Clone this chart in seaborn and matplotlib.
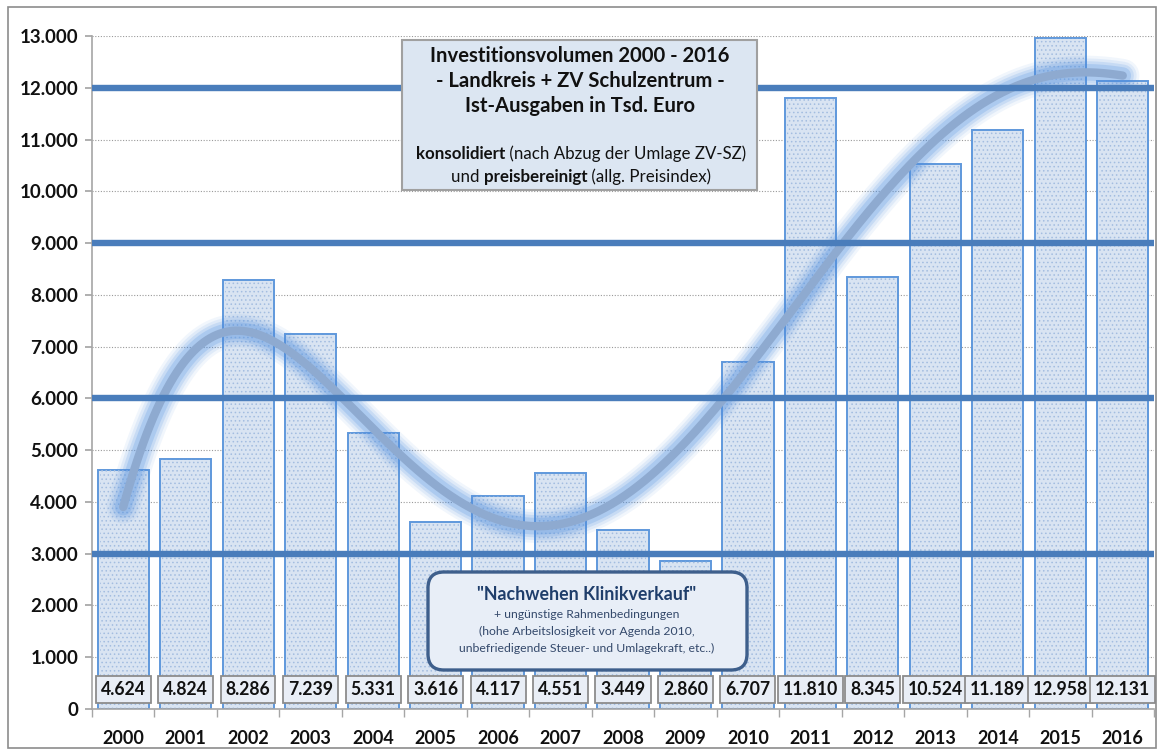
import numpy as np
import pandas as pd
import matplotlib
matplotlib.use("Agg")
import matplotlib.pyplot as plt
import seaborn as sns
from matplotlib.patches import Rectangle, FancyBboxPatch
from matplotlib.transforms import IdentityTransform
from matplotlib.ticker import FuncFormatter, MultipleLocator

# data (Tsd. Euro)
years = [str(y) for y in range(2000, 2017)]
invest = [4624, 4824, 8286, 7239, 5331, 3616, 4117, 4551, 3449, 2860,
          6707, 11810, 8345, 10524, 11189, 12958, 12131]
ref_lines = [3000, 6000, 9000, 12000]

title_lines = ["Investitionsvolumen 2000 - 2016",
               "- Landkreis + ZV Schulzentrum -",
               "Ist-Ausgaben in Tsd. Euro"]
note_title = '"Nachwehen Klinikverkauf"'
note_lines = ["+ ungünstige Rahmenbedingungen",
              "(hohe Arbeitslosigkeit vor Agenda 2010,",
              "unbefriedigende Steuer- und Umlagekraft, etc..)"]

df = pd.DataFrame({"Jahr": years, "Invest": invest})

sns.set_theme(style="white")
plt.rcParams["font.family"] = ["Lato", "DejaVu Sans"]
plt.rcParams["hatch.linewidth"] = 0.6

W, H = 1157, 749
fig = plt.figure(figsize=(W / 100, H / 100), dpi=100)
ax = fig.add_axes([92 / W, 1 - 709 / H, (1154 - 92) / W, (709 - 36) / H])

# bars (outer edge + inner dotted layer)
sns.barplot(data=df, x="Jahr", y="Invest", color="#d9e4f2", saturation=1,
            width=0.82, edgecolor="#5f98dc", linewidth=1.4, ax=ax, zorder=2)
sns.barplot(data=df, x="Jahr", y="Invest", color="#d9e4f2", saturation=1,
            width=0.75, edgecolor="#a8c2e2", linewidth=0, hatch="....",
            ax=ax, zorder=2.1)
for p in ax.patches[len(years):]:
    p.set_facecolor("none")
    p.set_edgecolor("#a3bde0")
    p.set_linewidth(0)

# polynomial trend line like Excel
idx = np.arange(len(years))
coef = np.polyfit(idx, invest, 5)
xs = np.linspace(0, len(years) - 1, 300)
ys = np.polyval(coef, xs)
for lw, a in [(24, 0.08), (20, 0.11), (16, 0.16), (12, 0.22)]:
    ax.plot(xs, ys, color="#4f8fe0", lw=lw, alpha=a, solid_capstyle="round", zorder=3)
ax.plot(xs, ys, color="#8eaad0", lw=6, solid_capstyle="round", zorder=3.2)

# dotted grid + thick reference lines
for v in range(1000, 14000, 1000):
    ax.axhline(v, color="#9a9a9a", lw=0.8, ls=(0, (1, 1.5)), zorder=1)
for v in ref_lines:
    ax.axhline(v, color="#4a7dbb", lw=4.6, zorder=4)

ax.set_xlim(-0.5, len(years) - 0.5)
ax.set_ylim(0, 13000)
ax.yaxis.set_major_locator(MultipleLocator(1000))
ax.yaxis.set_major_formatter(FuncFormatter(lambda v, p: f"{int(v):,}".replace(",", ".")))
ax.set_xlabel("")
ax.set_ylabel("")
for s in ["top", "right"]:
    ax.spines[s].set_visible(False)
for s in ["left", "bottom"]:
    ax.spines[s].set_color("#a6a6a6")
    ax.spines[s].set_linewidth(1.2)
ax.tick_params(axis="y", which="major", left=True, length=5, color="#a6a6a6",
               labelsize=13.5, pad=5)
ax.tick_params(axis="x", which="major", bottom=False, labelsize=13, pad=9)
ax.set_xticks(np.arange(-0.5, len(years), 1), minor=True)
ax.tick_params(axis="x", which="minor", bottom=True, length=6, color="#a6a6a6")
for lab in ax.get_xticklabels() + ax.get_yticklabels():
    lab.set_fontweight("bold")
    lab.set_color("#111111")

# value labels at the foot of the bars
for i, v in enumerate(invest):
    ax.text(i, 370, f"{v:,}".replace(",", "."), ha="center", va="center",
            fontsize=12.7, fontweight="bold", color="#111111", zorder=6,
            bbox=dict(boxstyle="square,pad=0.28", fc="#e9eef6", ec="#8c8c8c", lw=1.3))

px = IdentityTransform()

def py(y):
    return H - y

# title box
fig.add_artist(Rectangle((402, py(190)), 355, 150, transform=px, fc="#dce6f2",
                         ec="#a0a0a0", lw=1.5, zorder=10))
for k, t in enumerate(title_lines):
    fig.text(580, py(56 + 25 * k), t, transform=px, ha="center", va="center",
             fontsize=14.6, fontweight="bold", color="#111111", zorder=11)

def mixed_line(parts, xc, yc, size):
    # parts: list of (text, weight); draw then center as one line
    arts = []
    for t, w in parts:
        arts.append(fig.text(0, py(yc), t, transform=px, ha="left", va="center",
                             fontsize=size, fontweight=w, color="#111111", zorder=11))
    fig.canvas.draw()
    r = fig.canvas.get_renderer()
    widths = [a.get_window_extent(r).width for a in arts]
    x = xc - sum(widths) / 2
    for a, w in zip(arts, widths):
        a.set_position((x, py(yc)))
        x += w

mixed_line([("konsolidiert", "bold"), (" (nach Abzug der Umlage ZV-SZ)", "normal")], 581, 154, 12.2)
mixed_line([("und ", "normal"), ("preisbereinigt", "bold"), (" (allg. Preisindex)", "normal")], 581, 177, 12.2)

# note box
fig.add_artist(FancyBboxPatch((440, py(658)), 295, 74, transform=px,
                              boxstyle="round,pad=12,rounding_size=16",
                              fc="#e8eef7", ec="#3e5f8c", lw=2.4, zorder=10))
fig.text(587, py(595), note_title, transform=px, ha="center", va="center",
         fontsize=12.8, fontweight="bold", color="#1f3e6b", zorder=11)
for k, t in enumerate(note_lines):
    fig.text(587, py(615 + 16.5 * k), t, transform=px, ha="center", va="center",
             fontsize=8.8, color="#34496b", zorder=11)

# outer frame
fig.add_artist(Rectangle((8, 1), W - 9, H - 8, transform=px, fc="none",
                         ec="#8c8c8c", lw=1.2, zorder=0))

fig.savefig("out.png", dpi=100)
